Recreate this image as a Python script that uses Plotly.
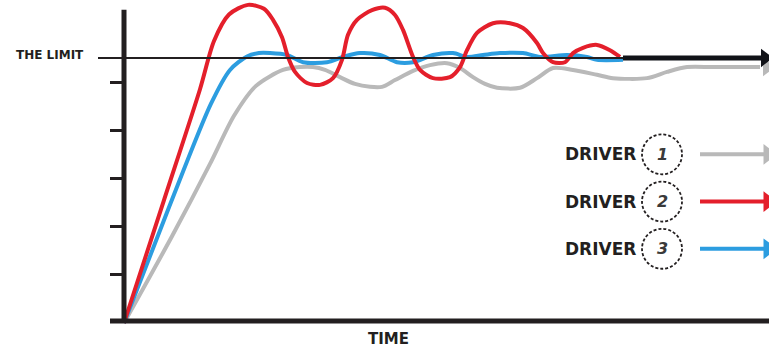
import plotly.graph_objects as go

# Grip used over time by each driver (grip scale: limit = 5.5)
t_driver1 = [0, 4.8, 8.6, 11.0, 13.2, 15.9, 17.6, 18.9, 20.1, 21.6, 23.1, 24.6,
             25.8, 27.1, 28.9, 30.6, 32.3, 33.6, 34.9, 36.1, 37.3, 39.6, 41.3, 42.9, 44.9, 47.3,
             48.9, 52.3, 54.3, 56.3, 58.9, 63.6]
v_driver1 = [0, 1.80, 3.30, 4.30, 4.92, 5.25, 5.31, 5.31, 5.25, 5.10, 4.96, 4.90,
             4.90, 5.04, 5.23, 5.35, 5.39, 5.29, 5.10, 4.96, 4.88, 4.88, 5.08, 5.29, 5.25, 5.15,
             5.08, 5.08, 5.21, 5.31, 5.31, 5.31]

t_driver2 = [0, 4.0, 7.6, 9.0, 10.5, 12.4, 14.0, 14.9, 15.8, 16.4, 17.1, 18.3,
             19.6, 20.9, 21.8, 22.4, 23.3, 24.8, 26.1, 27.1, 27.9, 28.9, 29.6, 30.9, 32.6, 33.6,
             34.3, 35.3, 36.9, 38.6, 39.9, 41.3, 41.9, 42.9, 44.1, 44.9, 45.9, 47.3, 48.6, 49.6]
v_driver2 = [0, 2.55, 4.85, 5.85, 6.40, 6.60, 6.52, 6.29, 5.93, 5.52, 5.21,
             4.98, 4.94, 5.08, 5.46, 5.98, 6.29, 6.49, 6.54, 6.39, 6.08, 5.52, 5.25, 5.08, 5.10,
             5.31, 5.66, 6.02, 6.22, 6.22, 6.12, 5.81, 5.60, 5.41, 5.41, 5.60, 5.71, 5.77, 5.66, 5.52]

t_driver3 = [0, 4.5, 8.7, 10.6, 12.3, 13.5, 14.6, 16.3, 17.9, 20.3, 21.9, 23.6,
             25.6, 27.3, 28.9, 30.9, 32.9, 34.3, 35.9, 37.6, 39.9, 41.6, 44.3, 46.3, 47.3, 49.9]
v_driver3 = [0, 2.40, 4.55, 5.25, 5.53, 5.60, 5.60, 5.56, 5.41, 5.41, 5.52,
             5.60, 5.56, 5.41, 5.41, 5.56, 5.60, 5.52, 5.56, 5.60, 5.60, 5.52, 5.56, 5.52, 5.46, 5.46]

LIMIT = 5.5
Y_TICKS = [1, 2, 3, 4, 5]
DRIVER_LABELS = ["DRIVER", "DRIVER", "DRIVER"]
DRIVER_NUMBERS = ["1", "2", "3"]
Y_LABEL = "THE LIMIT"
X_LABEL = "TIME"

GRAY, RED, BLUE, INK = "#b9b9b9", "#e41f2b", "#2c9de0", "#231f20"
COLORS = [GRAY, RED, BLUE]

X_RANGE = [-12.4, 64.5]
Y_RANGE = [-29 / 48.2, 323 / 48.2]
Y_TOP = 6.5
T_END = 64.5

fig = go.Figure()

series = [(t_driver1, v_driver1), (t_driver2, v_driver2), (t_driver3, v_driver3)]
draw_order = [0, 2, 1]
for i in draw_order:
    t, v = series[i]
    fig.add_trace(go.Scatter(x=t, y=v, mode="lines",
                             line=dict(color=COLORS[i], width=4, shape="spline", smoothing=0.8),
                             hoverinfo="skip", cliponaxis=False))

# arrowhead on driver 1's trace
fig.add_trace(go.Scatter(x=[T_END - 0.2], y=[v_driver1[-1]], mode="markers",
                         marker=dict(symbol="triangle-right", size=16, color=GRAY), cliponaxis=False))

# grip limit line: thin while drivers oscillate, heavy once settled
t_settle = max(t_driver2[-1], t_driver3[-1])
fig.add_trace(go.Scatter(x=[-2.6, t_settle], y=[LIMIT, LIMIT], mode="lines",
                         line=dict(color=INK, width=2), cliponaxis=False))
fig.add_trace(go.Scatter(x=[t_settle, T_END - 0.8], y=[LIMIT, LIMIT], mode="lines",
                         line=dict(color="#111318", width=5), cliponaxis=False))
fig.add_trace(go.Scatter(x=[T_END - 0.4], y=[LIMIT], mode="markers",
                         marker=dict(symbol="triangle-right", size=16, color="#111318"), cliponaxis=False))

# custom legend
legend_rows = [3.5, 2.52, 1.54]
circle_x = 53.8
for label, num, color, yv in zip(DRIVER_LABELS, DRIVER_NUMBERS, COLORS, legend_rows):
    fig.add_trace(go.Scatter(x=[57.6, T_END - 0.3], y=[yv, yv], mode="lines",
                             line=dict(color=color, width=4), cliponaxis=False))
    fig.add_trace(go.Scatter(x=[T_END - 0.1], y=[yv], mode="markers",
                             marker=dict(symbol="triangle-right", size=18, color=color), cliponaxis=False))
    fig.add_shape(type="circle", xref="x", yref="y", xsizemode="pixel", ysizemode="pixel",
                  xanchor=circle_x, yanchor=yv, x0=-20, x1=20, y0=-20, y1=20,
                  line=dict(color=INK, width=1.8, dash="3px,2px"))
    fig.add_annotation(x=circle_x, y=yv, text="<i><b>" + num + "</b></i>", showarrow=False,
                       font=dict(family="DejaVu Sans", size=16, color="#3a3a3a"))
    fig.add_annotation(x=51.4, y=yv, text="<b>" + label + "</b>", showarrow=False, xanchor="right",
                       font=dict(family="DejaVu Sans", size=17, color=INK))

# axes
fig.add_shape(type="line", xref="x", yref="y", x0=0, x1=0, y0=0, y1=Y_TOP,
              line=dict(color=INK, width=5), layer="above")
fig.add_shape(type="line", xref="x", yref="y", ysizemode="pixel", yanchor=0, y0=2, y1=2,
              x0=-1.4, x1=T_END, line=dict(color=INK, width=5), layer="above")

fig.add_annotation(x=-7.4, y=LIMIT, yshift=3, text="<b>" + Y_LABEL + "</b>", showarrow=False,
                   font=dict(family="DejaVu Sans", size=12, color=INK))
fig.add_annotation(x=26.4, y=-0.33, text="<b>" + X_LABEL + "</b>", showarrow=False,
                   font=dict(family="DejaVu Sans", size=15, color=INK))

fig.update_layout(
    width=769, height=352, margin=dict(l=0, r=0, t=0, b=0),
    paper_bgcolor="white", plot_bgcolor="white", showlegend=False,
    xaxis=dict(range=X_RANGE, showgrid=False, zeroline=False, showline=False,
               showticklabels=False, ticks="", fixedrange=True),
    yaxis=dict(range=Y_RANGE, showgrid=False, zeroline=False, showline=False,
               showticklabels=False, ticks="outside", tickvals=Y_TICKS, ticklen=14,
               tickwidth=3, tickcolor=INK, anchor="free", position=124 / 769, fixedrange=True),
)

fig.write_html("out.html")
